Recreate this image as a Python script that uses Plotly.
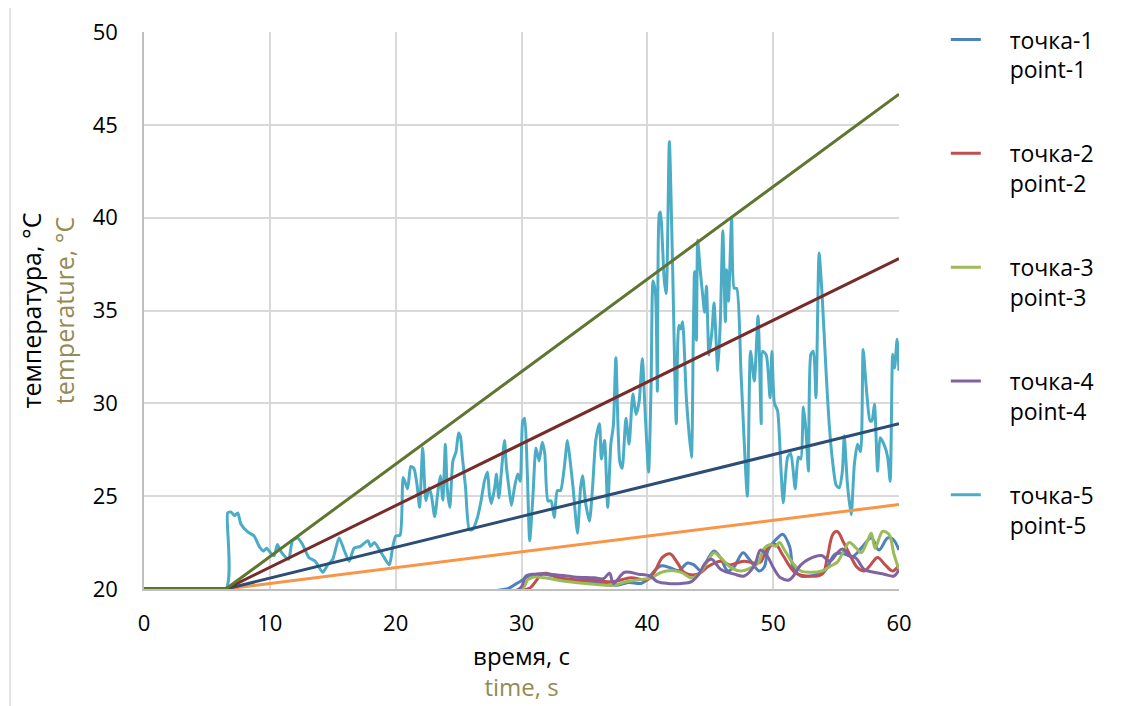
import plotly.graph_objects as go

# ---- data ----
t1 = [0, 28.8, 29.5, 30.0, 30.6, 31.8, 33.65, 36.3, 37.6, 38.5, 39.5, 40.0, 40.55, 41.1, 41.8, 42.5, 43.2, 43.7,
      44.3, 44.8, 45.3, 45.8, 46.4, 46.9, 47.6, 48.1, 48.9, 49.3, 49.6, 50.35, 50.75, 51.3, 51.6, 52.2, 53.3,
      54.1, 54.9, 55.6, 56.3, 57.0, 57.8, 58.4, 59.1, 59.5, 60]
y1 = [20, 20, 20.25, 20.45, 20.7, 20.8, 20.5, 20.3, 20.2, 20.35, 20.3, 20.5, 20.97, 21.25, 21.15, 21.0, 21.4, 21.3,
      20.97, 21.6, 22.05, 21.7, 20.97, 21.2, 21.95, 21.6, 20.97, 21.2, 22.1, 22.75, 22.95, 22.3, 21.15, 20.7, 20.75,
      20.97, 21.87, 21.9, 21.75, 22.2, 22.75, 22.1, 22.75, 22.7, 22.1]

t2 = [0, 30.5, 31.0, 31.6, 32.0, 33.0, 34.5, 36.0, 37.3, 38.7, 40.0, 40.55, 41.2, 41.8, 42.4, 42.9, 43.6, 44.3,
      44.8, 45.85, 46.5, 47.1, 47.7, 48.5, 49.0, 49.55, 50.2, 50.7, 51.7, 52.6, 53.9, 54.3, 54.75, 55.1, 55.6,
      56.2, 56.7, 57.25, 57.8, 58.3, 58.9, 59.5, 60]
y2 = [20, 20, 20.3, 20.8, 20.85, 20.6, 20.5, 20.45, 20.4, 20.6, 20.5, 20.9, 21.7, 21.9, 21.4, 20.9, 20.75, 20.9,
      21.2, 21.5, 21.3, 21.4, 21.5, 21.4, 21.45, 22.2, 22.4, 21.9, 20.9, 20.7, 20.8, 21.7, 22.95, 23.1, 22.5,
      21.7, 21.15, 20.97, 21.35, 21.7, 21.3, 20.97, 21.3]

t3 = [0, 30.0, 30.5, 31.0, 31.8, 33.6, 35.75, 37.3, 38.4, 39.4, 40.3, 41.1, 41.9, 42.7, 43.5, 44.1, 44.8, 45.3,
      45.8, 46.65, 47.4, 48.1, 48.8, 49.3, 49.8, 50.2, 50.5, 50.9, 51.55, 52.2, 53.0, 53.9, 54.6, 55.1, 55.65,
      56.05, 56.6, 57.0, 57.5, 57.8, 58.1, 58.7, 59.2, 59.6, 60]
y3 = [20, 20, 20.5, 20.65, 20.6, 20.4, 20.25, 20.2, 20.4, 20.5, 20.6, 20.9, 21.0, 20.9, 20.6, 20.8, 21.5, 21.95,
      21.7, 21.15, 20.97, 21.1, 21.4, 22.2, 22.4, 22.3, 22.5, 22.1, 21.4, 20.97, 20.9, 20.97, 21.25, 21.45, 22.1,
      22.5, 22.2, 21.95, 22.6, 23.0, 22.2, 23.1, 22.95, 21.87, 21.05]

t4 = [0, 29.8, 30.35, 31.0, 32.3, 34.2, 35.8, 36.5, 37.0, 37.3, 38.2, 39.3, 40.2, 40.8, 41.6, 42.7, 43.5, 44.1,
      44.6, 45.1, 45.85, 46.9, 47.7, 48.5, 49.0, 49.5, 50.1, 50.6, 51.3, 52.2, 52.8, 53.85, 54.5, 55.1, 55.5,
      56.05, 56.6, 57.25, 58.0, 58.8, 59.6, 60]
y4 = [20, 20, 20.7, 20.8, 20.8, 20.65, 20.6, 20.55, 20.85, 20.3, 20.9, 20.8, 20.7, 20.4, 20.3, 20.3, 20.4, 20.8,
      21.4, 21.6, 21.05, 20.8, 20.7, 21.25, 22.1, 21.8, 21.05, 20.6, 20.5, 21.3, 21.6, 21.8, 21.5, 21.95, 22.15,
      21.8, 21.65, 21.05, 20.9, 20.8, 20.7, 21.05]

t5 = [0, 6.5, 6.65, 6.9, 7.2, 7.45, 7.7, 8.2, 8.75, 9.15,
      9.5, 9.75, 10.05, 10.35, 10.6, 10.9, 11.2, 11.5, 11.8, 12.2,
      12.6, 13.1, 13.6, 14.2, 14.6, 15.0, 15.5, 15.9, 16.3, 16.7,
      17.2, 17.8, 18.0, 18.3, 18.9, 19.5, 19.75, 20.0, 20.35, 20.6,
      20.95, 21.2, 21.45, 21.7, 21.9, 22.15, 22.4, 22.65, 22.85, 23.1,
      23.35, 23.55, 23.75, 23.95, 24.1, 24.3, 24.55, 24.8, 25.0, 25.15,
      25.3, 25.55, 25.85, 26.1, 26.5, 26.8, 27.05, 27.3, 27.45, 27.6,
      27.9, 28.0, 28.2, 28.4, 28.65, 28.8, 29.0, 29.2, 29.45, 29.7,
      29.9, 30.1, 30.25, 30.45, 30.65, 30.9, 31.15, 31.4, 31.65, 31.85,
      32.1, 32.35, 32.6, 32.85, 33.1, 33.4, 33.65, 33.85, 34.1, 34.45,
      34.7, 34.85, 35.1, 35.4, 35.65, 35.9, 36.2, 36.35, 36.6, 36.85,
      37.1, 37.3, 37.5, 37.8, 38.0, 38.3, 38.55, 38.85, 39.1, 39.35,
      39.6, 39.85, 40.1, 40.3, 40.45, 40.65, 40.8, 40.95, 41.05, 41.2,
      41.35, 41.5, 41.75, 42.0, 42.3, 42.5, 42.65, 42.8, 43.1, 43.5,
      43.65, 43.75, 43.9, 44.0, 44.2, 44.4, 44.55, 44.7, 44.9, 45.15,
      45.3, 45.6, 45.8, 46.0, 46.2, 46.3, 46.45, 46.7, 46.9, 47.1,
      47.45, 47.95, 48.2, 48.5, 48.8, 49.05, 49.15, 49.45, 49.75, 49.9,
      50.1, 50.35, 50.6, 50.8, 51.15, 51.4, 51.75, 52.0, 52.2, 52.4,
      52.6, 52.8, 53.0, 53.2, 53.4, 53.65, 53.9, 54.2, 54.45, 54.75,
      55.0, 55.25, 55.5, 55.65, 55.9, 56.2, 56.45, 56.7, 56.95, 57.15,
      57.4, 57.7, 57.85, 58.05, 58.3, 58.5, 58.8, 59.1, 59.3, 59.5,
      59.65, 59.85, 60.0]
y5 = [20.0, 20.0, 24.1, 24.15, 23.95, 24.1, 23.5, 23.1, 22.85, 22.3,
      22.05, 22.2, 21.95, 21.8, 22.4, 22.0, 21.75, 21.6, 22.6, 22.75,
      22.4, 21.7, 21.5, 20.9, 21.3, 21.6, 22.75, 22.1, 21.5, 22.2,
      22.3, 22.6, 22.3, 22.5, 21.9, 21.3, 22.2, 22.85, 22.9, 26.0,
      25.4, 26.6, 26.5, 25.6, 24.4, 27.6, 24.75, 25.45, 25.0, 23.9,
      25.2, 26.1, 24.8, 27.8, 25.4, 24.4, 26.9, 27.4, 28.4, 28.2,
      27.1, 25.5, 23.2, 23.2, 23.85, 24.8, 25.8, 26.3, 25.1, 24.6,
      25.6, 26.2, 24.9, 26.3, 28.0, 26.6, 25.45, 24.5, 25.5, 26.2,
      25.8, 29.05, 29.2, 26.5, 22.6, 24.9, 27.6, 26.9, 27.9, 27.3,
      24.75, 24.75, 23.85, 25.3, 25.3, 26.55, 28.0, 27.0, 25.45, 23.0,
      25.5, 26.1, 24.6, 23.65, 25.5, 28.0, 28.9, 27.0, 28.0, 24.4,
      27.8, 28.8, 32.45, 26.9, 26.5, 29.2, 27.8, 30.5, 29.4, 30.1,
      32.4, 29.2, 26.3, 31.0, 36.6, 35.9, 30.65, 40.2, 40.3, 38.6,
      36.6, 35.9, 44.1, 37.65, 28.9, 34.2, 34.0, 34.4, 30.3, 27.1,
      33.5, 37.1, 33.4, 38.8, 37.2, 35.8, 34.9, 36.3, 32.6, 34.0,
      35.4, 31.75, 34.4, 39.3, 34.4, 37.2, 35.5, 40.0, 36.2, 36.2,
      31.55, 25.0, 32.8, 31.2, 34.7, 28.9, 32.8, 32.6, 30.3, 32.8,
      30.0, 29.6, 26.7, 24.65, 27.1, 27.3, 25.4, 27.1, 27.0, 29.8,
      28.6, 26.35, 32.65, 32.8, 30.3, 38.1, 35.7, 31.75, 28.9, 26.7,
      25.6, 25.45, 26.35, 28.25, 25.65, 24.0, 26.7, 27.8, 27.4, 32.9,
      30.85, 29.05, 29.05, 29.95, 26.35, 28.15, 27.8, 27.1, 25.8, 32.65,
      31.9, 33.45, 31.75]

# straight reference lines (start, knee, end)
ref_t = [0, 6.5, 60]
ref_orange = [20, 20, 24.55]
ref_blue = [20, 20, 28.9]
ref_red = [20, 20, 37.8]
ref_olive = [20, 20, 46.65]

SP = "\u00a0" * 4
names = [f"{SP}точка-1<br>{SP}point-1", f"{SP}точка-2<br>{SP}point-2", f"{SP}точка-3<br>{SP}point-3",
         f"{SP}точка-4<br>{SP}point-4", f"{SP}точка-5<br>{SP}point-5"]
colors = ["#4F81BD", "#C0504D", "#9BBB59", "#8064A2", "#4BACC6"]

FONT = "'Open Sans', sans-serif"
FS = 22

fig = go.Figure()
series = [(t1, y1), (t2, y2), (t3, y3), (t4, y4), (t5, y5)]
for i, ((tx, ty), nm, c) in enumerate(zip(series, names, colors)):
    fig.add_trace(go.Scatter(
        x=tx, y=ty, name=nm, mode="lines", legendgroup=f"g{i}",
        line=dict(color=c, width=3, shape="spline", smoothing=0.6 if i == 4 else 1.0),
    ))

for yy, c in [(ref_orange, "#F79646"), (ref_blue, "#2C4D75"), (ref_red, "#772C2A"), (ref_olive, "#5F7530")]:
    fig.add_trace(go.Scatter(x=ref_t, y=yy, mode="lines", showlegend=False,
                             line=dict(color=c, width=3), hoverinfo="skip"))

PW, PH = 755, 557
L, T = 136, 24
W, H = 1127, 698
fig.update_layout(
    width=W, height=H,
    margin=dict(l=L, r=W - L - PW, t=T, b=H - T - PH, pad=0, autoexpand=False),
    paper_bgcolor="white", plot_bgcolor="white",
    font=dict(family=FONT, size=FS, color="#000000"),
    legend=dict(x=1.062, xanchor="left", y=1.025, yanchor="top",
                tracegroupgap=51, valign="top", maxheight=690,
                font=dict(family=FONT, size=23, color="#000000"),
                bgcolor="rgba(0,0,0,0)"),
    xaxis=dict(range=[0, 60], dtick=10, tick0=0, showgrid=True, gridcolor="#D9D9D9", gridwidth=1.5,
               showline=True, linecolor="#BFBFBF", linewidth=1.5, zeroline=False, automargin=False,
               ticks="", ticklabelstandoff=14,
               title=dict(text="время, с<br><span style='color:#948A54'>time, s</span>",
                          font=dict(family=FONT, size=24), standoff=12)),
    yaxis=dict(range=[20, 50], dtick=5, tick0=20, showgrid=True, gridcolor="#D9D9D9", gridwidth=1.5,
               showline=True, linecolor="#BFBFBF", linewidth=1.5, zeroline=False, automargin=False,
               ticks="", ticklabelstandoff=20,
               title=dict(text="температура, °C<br><span style='color:#948A54'>temperature, °C</span>",
                          font=dict(family=FONT, size=25), standoff=11)),
    shapes=[dict(type="line", xref="paper", yref="paper",
                 x0=(2 - L) / PW, x1=(2 - L) / PW, y0=-0.25, y1=1.1,
                 line=dict(color="#D9D9D9", width=1.5))],
)

fig.write_html("out.html")
